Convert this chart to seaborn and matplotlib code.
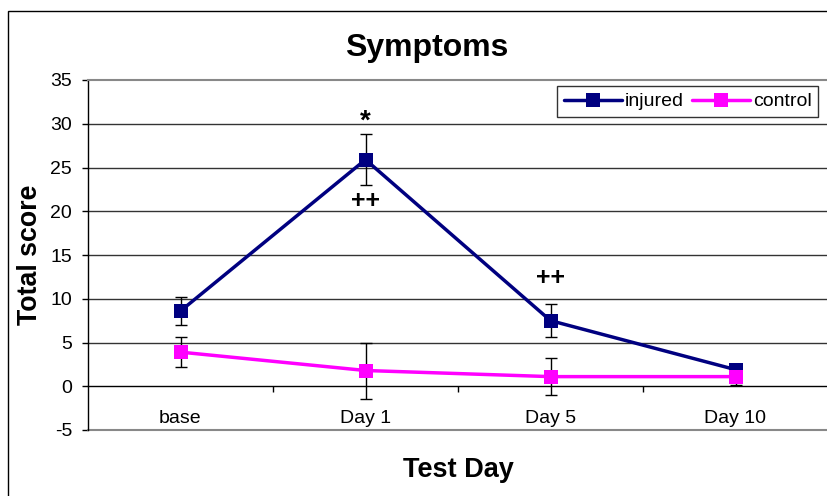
import matplotlib
matplotlib.use("Agg")
import matplotlib.pyplot as plt
import seaborn as sns
import pandas as pd
from matplotlib.patches import Rectangle

# Data
days = ["base", "Day 1", "Day 5", "Day 10"]
injured_mean = [8.6, 25.9, 7.5, 1.9]
injured_err = [1.6, 2.9, 1.9, 0.6]
control_mean = [3.9, 1.8, 1.1, 1.1]
control_err = [1.7, 3.2, 2.1, 1.0]
y_ticks = [-5, 0, 5, 10, 15, 20, 25, 30, 35]

navy = "#000080"
magenta = "#FF00FF"

sns.set_theme(style="white")
plt.rcParams["font.family"] = ["Liberation Sans", "DejaVu Sans"]
plt.rcParams["text.color"] = "black"
plt.rcParams["axes.labelcolor"] = "black"

df = pd.DataFrame({
    "day": days * 2,
    "score": injured_mean + control_mean,
    "group": ["injured"] * 4 + ["control"] * 4,
})

fig = plt.figure(figsize=(8.27, 4.96), dpi=100)
W, H = 827, 496
# axes: left 88px, right 828px, top 80px, bottom 430px
ax = fig.add_axes([88 / W, 1 - 430 / H, (828 - 88) / W, 350 / H])

# chart-area border
fig.patches.append(Rectangle((8 / W, -0.1), 1.2, 1 - 11 / H + 0.1,
                             transform=fig.transFigure, fill=False,
                             edgecolor="black", lw=1.0, zorder=0))

xpos = list(range(len(days)))

# error bars behind markers
ax.errorbar(xpos, injured_mean, yerr=injured_err, fmt="none", ecolor="black",
            elinewidth=1.0, capsize=4.5, capthick=1.0, zorder=2)
ax.errorbar(xpos, control_mean, yerr=control_err, fmt="none", ecolor="black",
            elinewidth=1.0, capsize=4.5, capthick=1.0, zorder=2)

sns.lineplot(data=df, x="day", y="score", hue="group",
             hue_order=["injured", "control"],
             palette={"injured": navy, "control": magenta},
             marker="s", markersize=10, markeredgewidth=0, linewidth=2.5,
             sort=False, ax=ax, zorder=3)

ax.set_xlim(-0.5, 3.5)
ax.set_ylim(-5, 35)

# gridlines
for y in y_ticks[1:-1]:
    if y != 0:
        ax.axhline(y, color="#333333", lw=1.0, zorder=1)

# spines
ax.spines["left"].set_color("black")
ax.spines["left"].set_linewidth(1.0)
ax.spines["top"].set_color("#888888")
ax.spines["top"].set_linewidth(1.5)
ax.spines["right"].set_visible(False)
ax.spines["bottom"].set_position(("data", 0))
ax.spines["bottom"].set_color("black")
ax.spines["bottom"].set_linewidth(1.0)
ax.axhline(-5, color="#888888", lw=1.5, zorder=1, clip_on=False)

ax.set_yticks(y_ticks)
ax.set_yticklabels([str(v) for v in y_ticks])
ax.tick_params(axis="y", which="major", direction="out", length=4.5, width=1.0,
               color="black", left=True, pad=7, labelsize=14, labelcolor="black")

ax.set_xticks(xpos)
ax.set_xticklabels(days)
ax.set_xticks([0.5, 1.5, 2.5], minor=True)
ax.tick_params(axis="x", which="major", length=0, pad=17, labelsize=14,
               labelcolor="black", bottom=True)
ax.tick_params(axis="x", which="minor", direction="out", length=4, width=1.0,
               color="black", bottom=True)

ax.set_xlabel("Test Day", fontsize=19.5, fontweight="bold", labelpad=22,
              color="black")
ax.set_ylabel("Total score", fontsize=19.3, fontweight="bold", labelpad=5,
              color="black")
fig.text(427 / W, 1 - 48 / H, "Symptoms", ha="center", va="center",
         fontsize=23, fontweight="bold", color="black")

# significance markers
ax.text(1, 30.3, "*", ha="center", va="center", fontsize=20, fontweight="bold",
        color="black")
ax.text(1, 21.2, "++", ha="center", va="center", fontsize=18,
        fontweight="bold", color="black")
ax.text(2, 12.4, "++", ha="center", va="center", fontsize=18,
        fontweight="bold", color="black")

leg = ax.legend(loc="upper right", bbox_to_anchor=(0.987, 0.983), ncol=2,
                fontsize=14, frameon=True, fancybox=False, handlelength=3.0,
                handletextpad=0.15, columnspacing=0.4, borderpad=0.35,
                borderaxespad=0)
leg.get_frame().set_edgecolor("black")
leg.get_frame().set_linewidth(1.0)
leg.set_title(None)
for t in leg.get_texts():
    t.set_color("black")

fig.savefig("out.png", dpi=100)
